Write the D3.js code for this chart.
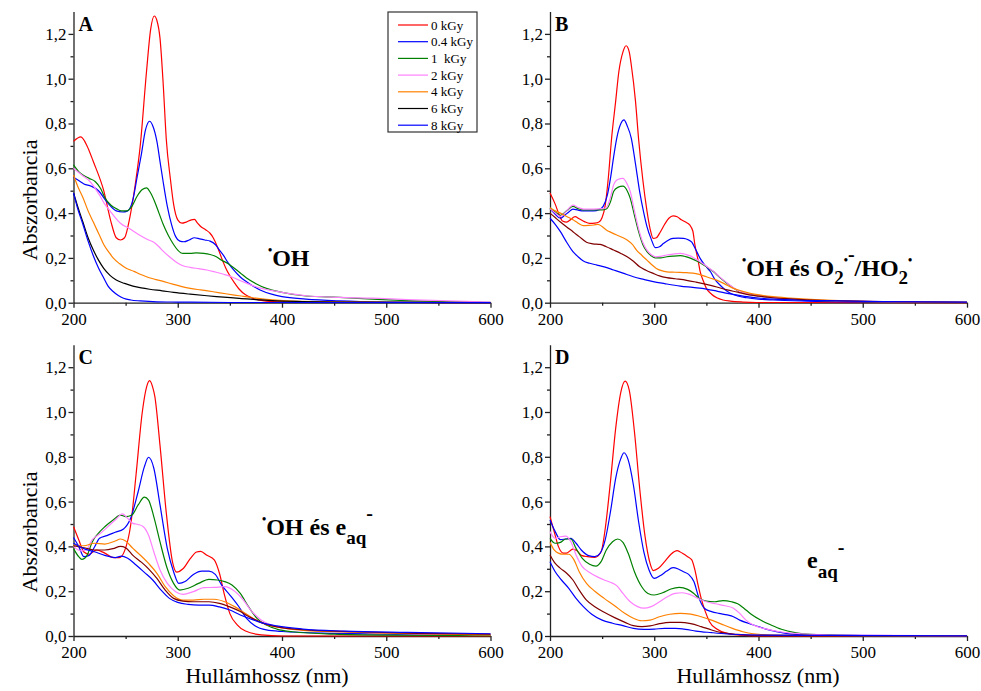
<!DOCTYPE html>
<html>
<head>
<meta charset="utf-8">
<script src="https://cdn.jsdelivr.net/npm/d3@7"></script>
<style>
  body { margin: 0; background: #fff; }
  svg { display: block; }
  svg text { font-family: "Liberation Serif", Tinos, "Times New Roman", serif; fill: #000; }
</style>
</head>
<body>
<svg id="chart" width="981" height="691"></svg>
<script>
// ---- Series labels, colours and tick values ----
const doses = ["0 kGy", "0.4 kGy", "1  kGy", "2 kGy", "4 kGy", "6 kGy", "8 kGy"];
const doseColors = ["#ff0000", "#0000ff", "#008000", "#ff80ff", "#ff8000", "#800000", "#0000ff"];
const panelLetters = ["A", "B", "C", "D"];
const xTicks = [200, 300, 400, 500, 600];
const xMinorTicks = [250, 350, 450, 550];
const yTicks = [0, 0.2, 0.4, 0.6, 0.8, 1.0, 1.2];
const yMinorTicks = [0.1, 0.3, 0.5, 0.7, 0.9, 1.1];

// ---- Spectra: [wavelength (nm), absorbance] ----
// A: •OH
const A_0 = [[200,.72],[207,.74],[213,.70],[219,.63],[229,.50],[236,.36],[241,.29],[245,.28],[249,.29],[254,.38],[259,.52],[264,.70],[270,1.03],[274,1.22],[277.5,1.28],[280,1.26],[283,1.18],[286,.98],[289,.73],[293,.55],[296,.44],[300,.37],[304,.355],[308,.36],[313,.37],[316,.372],[319,.355],[322,.34],[327,.325],[331,.31],[334,.29],[338,.25],[342,.20],[346,.155],[350,.12],[355,.085],[359,.06],[365,.035],[372,.02],[380,.01],[391,.005],[420,.002],[600,0]];
const A_04 = [[200,.56],[205,.545],[210,.53],[217,.52],[224,.50],[232,.45],[241,.41],[247,.405],[252,.41],[257,.46],[261,.56],[265,.66],[269,.77],[273,.81],[276,.79],[280,.72],[283,.63],[286,.54],[290,.43],[294,.35],[298,.295],[302,.275],[306,.272],[311,.28],[316,.29],[321,.285],[326,.28],[331,.275],[336,.26],[340,.235],[344,.21],[348,.18],[353,.15],[360,.115],[366,.094],[372,.075],[379,.057],[390,.038],[400,.027],[423,.016],[455,.008],[500,.003],[600,0]];
const A_1 = [[200,.615],[205,.585],[209,.57],[215,.555],[221,.54],[226,.51],[230,.47],[236,.435],[241,.42],[246,.41],[251,.41],[256,.43],[261,.475],[266,.505],[270,.513],[274,.49],[278,.45],[282,.40],[286,.35],[291,.30],[296,.26],[300,.235],[305,.22],[312,.22],[318,.222],[325,.22],[331,.215],[337,.205],[342,.19],[348,.175],[353,.158],[360,.133],[366,.11],[375,.085],[385,.064],[400,.046],[423,.03],[455,.024],[487,.016],[519,.009],[560,.004],[600,.002]];
const A_2 = [[200,.60],[208,.57],[216,.54],[225,.48],[230,.44],[235,.41],[240,.38],[245,.355],[254,.33],[264,.30],[272,.28],[277,.27],[282,.25],[286,.23],[292,.205],[299,.18],[305,.165],[312,.158],[320,.152],[328,.146],[336,.137],[344,.127],[352,.115],[359,.10],[367,.085],[375,.071],[387,.057],[400,.046],[423,.031],[455,.024],[487,.02],[520,.014],[560,.008],[600,.003]];
const A_4 = [[200,.57],[204,.52],[209,.47],[214,.41],[219,.36],[224,.31],[229,.26],[234,.225],[238,.20],[244,.175],[251,.153],[258,.14],[264,.127],[270,.116],[277,.106],[286,.095],[296,.082],[304,.072],[312,.064],[322,.057],[334,.049],[346,.04],[359,.031],[372,.022],[385,.015],[398,.01],[410,.007],[450,.004],[500,.002],[600,0]];
const A_6 = [[200,.49],[204,.43],[209,.36],[214,.29],[219,.235],[224,.19],[229,.153],[235,.122],[241,.101],[249,.086],[257,.074],[265,.066],[273,.06],[285,.053],[296,.046],[312,.038],[328,.031],[344,.025],[359,.019],[375,.014],[391,.009],[420,.005],[450,.003],[600,0]];
const A_8 = [[200,.49],[204,.42],[209,.35],[214,.275],[219,.21],[224,.155],[229,.11],[233,.075],[238,.05],[243,.032],[248,.02],[255,.012],[264,.008],[280,.004],[300,.003],[350,.001],[600,0]];

// B: •OH és O2•-/HO2•
const B_0 = [[200,.49],[205,.44],[209,.39],[212,.365],[216,.36],[220,.372],[224,.384],[228,.375],[233,.362],[238,.354],[243,.355],[247,.36],[250,.38],[253,.436],[256,.56],[259,.73],[263,.90],[266,1.03],[270,1.12],[273,1.147],[276,1.12],[278,1.06],[282,.90],[285,.73],[289,.55],[293,.41],[296,.33],[299,.287],[302,.29],[306,.317],[310,.35],[314,.377],[318,.388],[322,.384],[326,.37],[330,.36],[334,.347],[337,.32],[339,.258],[342,.19],[344,.14],[347,.098],[350,.064],[355,.038],[360,.022],[366,.012],[373,.007],[385,.003],[398,.001],[600,0]];
const B_04 = [[200,.42],[205,.395],[210,.377],[214,.39],[218,.405],[222,.418],[227,.413],[232,.41],[237,.41],[242,.41],[247,.415],[251,.43],[255,.48],[258,.555],[261,.65],[264,.734],[268,.80],[271,.816],[274,.79],[278,.734],[282,.62],[286,.496],[290,.40],[293,.34],[297,.285],[301,.246],[305,.25],[309,.265],[313,.278],[318,.287],[323,.288],[328,.287],[332,.282],[336,.27],[340,.235],[344,.198],[349,.165],[354,.138],[358,.105],[363,.079],[368,.058],[373,.042],[380,.03],[389,.022],[400,.016],[414,.012],[446,.007],[510,.003],[600,.001]];
const B_1 = [[200,.424],[205,.405],[210,.39],[216,.41],[222,.43],[227,.42],[232,.414],[242,.414],[250,.414],[254,.418],[258,.45],[261,.496],[265,.515],[270,.52],[274,.50],[277,.466],[281,.39],[285,.317],[289,.26],[293,.228],[297,.21],[301,.20],[306,.20],[312,.205],[318,.208],[325,.21],[330,.206],[334,.20],[339,.19],[344,.178],[350,.16],[357,.138],[363,.112],[370,.086],[376,.066],[382,.049],[390,.038],[400,.03],[415,.022],[430,.016],[455,.01],[478,.007],[530,.004],[600,.002]];
const B_2 = [[200,.42],[205,.40],[210,.385],[216,.41],[222,.436],[227,.425],[232,.418],[242,.418],[250,.42],[254,.425],[258,.47],[261,.526],[265,.55],[270,.555],[274,.53],[277,.496],[281,.41],[285,.33],[289,.27],[293,.235],[297,.215],[301,.205],[306,.207],[312,.213],[318,.217],[325,.22],[330,.216],[334,.21],[339,.197],[344,.183],[350,.163],[357,.14],[363,.114],[370,.088],[376,.067],[382,.05],[390,.039],[400,.031],[415,.023],[430,.017],[455,.011],[478,.008],[530,.004],[600,.002]];
const B_4 = [[200,.424],[205,.41],[210,.40],[216,.385],[222,.37],[227,.355],[232,.344],[237,.345],[242,.347],[246,.35],[250,.34],[254,.325],[259,.313],[264,.302],[269,.292],[274,.28],[279,.26],[283,.235],[288,.212],[293,.19],[298,.168],[302,.153],[307,.143],[312,.138],[320,.136],[331,.134],[340,.13],[350,.116],[357,.105],[363,.094],[370,.078],[376,.064],[384,.052],[392,.042],[402,.034],[414,.027],[430,.021],[446,.016],[470,.011],[494,.007],[540,.004],[600,.002]];
const B_6 = [[200,.40],[205,.38],[210,.36],[216,.338],[222,.317],[228,.295],[235,.27],[241,.263],[248,.26],[254,.25],[261,.235],[268,.22],[274,.205],[280,.185],[286,.16],[292,.145],[299,.131],[305,.12],[312,.112],[320,.107],[331,.10],[340,.092],[350,.082],[360,.07],[370,.057],[380,.047],[389,.037],[400,.029],[414,.022],[430,.017],[446,.013],[480,.008],[510,.005],[600,.002]];
const B_8 = [[200,.377],[205,.35],[210,.317],[216,.27],[222,.228],[227,.205],[232,.186],[238,.176],[245,.168],[252,.16],[261,.146],[270,.132],[280,.116],[290,.104],[299,.094],[310,.085],[325,.074],[337,.068],[350,.061],[360,.052],[370,.042],[380,.034],[389,.027],[400,.021],[414,.016],[440,.011],[462,.009],[520,.005],[600,.003]];

// C: •OH és e(aq)-
const C_0 = [[200,.488],[205,.43],[210,.375],[215,.365],[222,.384],[230,.37],[238,.35],[244,.35],[249,.38],[255,.50],[260,.72],[266,1.00],[270,1.11],[273,1.14],[276,1.11],[278,1.07],[283,.85],[289,.55],[295,.33],[299,.285],[305,.30],[312,.345],[318,.375],[322,.378],[328,.36],[335,.34],[340,.28],[345,.18],[350,.10],[357,.05],[365,.022],[380,.005],[400,0],[600,0]];
const C_04 = [[200,.44],[205,.40],[210,.354],[215,.36],[220,.396],[225,.436],[232,.448],[240,.463],[248,.478],[255,.528],[262,.644],[268,.756],[272,.798],[277,.75],[283,.585],[290,.39],[296,.287],[301,.235],[307,.243],[315,.275],[323,.29],[330,.29],[336,.275],[342,.228],[350,.183],[358,.135],[366,.079],[374,.046],[385,.027],[400,.02],[450,.012],[500,.008],[600,.005]];
const C_1 = [[200,.39],[205,.354],[208,.342],[213,.36],[218,.42],[223,.454],[230,.488],[238,.518],[245,.54],[250,.533],[256,.54],[262,.585],[268,.62],[272,.607],[277,.533],[283,.42],[290,.30],[296,.235],[302,.205],[310,.213],[320,.235],[330,.253],[338,.25],[345,.243],[352,.228],[360,.19],[368,.13],[376,.079],[385,.049],[395,.031],[410,.019],[450,.008],[500,.004],[600,.002]];
const C_2 = [[200,.40],[207,.38],[212,.384],[218,.43],[225,.455],[232,.484],[240,.518],[247,.545],[252,.525],[257,.503],[262,.498],[267,.488],[272,.45],[277,.376],[283,.295],[290,.235],[298,.198],[305,.186],[315,.198],[325,.216],[335,.217],[345,.22],[355,.198],[363,.16],[370,.116],[380,.071],[395,.042],[420,.027],[460,.019],[500,.013],[600,.006]];
const C_4 = [[200,.406],[210,.403],[220,.414],[230,.41],[240,.424],[245,.433],[250,.424],[257,.391],[265,.357],[272,.324],[280,.28],[288,.22],[296,.18],[305,.16],[315,.16],[325,.164],[335,.164],[345,.153],[355,.13],[365,.10],[375,.071],[390,.045],[410,.03],[450,.019],[500,.013],[600,.005]];
const C_6 = [[200,.403],[210,.394],[220,.384],[230,.384],[238,.39],[245,.40],[250,.394],[257,.36],[265,.33],[272,.30],[280,.257],[288,.205],[296,.168],[305,.156],[315,.153],[330,.153],[340,.146],[350,.13],[360,.109],[370,.082],[385,.052],[400,.037],[430,.025],[470,.019],[530,.012],[600,.008]];
const C_8 = [[200,.414],[210,.39],[220,.376],[230,.36],[240,.35],[246,.357],[252,.347],[260,.317],[268,.284],[276,.25],[284,.205],[292,.168],[300,.15],[310,.141],[320,.138],[330,.138],[340,.13],[350,.116],[360,.094],[370,.076],[380,.06],[395,.045],[420,.031],[460,.022],[520,.016],[600,.01]];

// D: e(aq)-
const D_0 = [[200,.533],[204,.466],[208,.40],[213,.37],[216,.37],[219,.38],[222,.388],[226,.38],[230,.36],[236,.354],[243,.351],[249,.376],[253,.48],[258,.69],[263,.927],[268,1.09],[272,1.138],[276,1.098],[281,.912],[286,.66],[291,.45],[296,.324],[299,.292],[304,.302],[310,.332],[316,.365],[322,.381],[327,.369],[332,.354],[336,.34],[339,.295],[342,.228],[345,.168],[349,.109],[353,.064],[360,.031],[370,.012],[390,.002],[400,0],[600,0]];
const D_04 = [[200,.518],[205,.466],[210,.43],[215,.433],[220,.436],[225,.414],[230,.384],[237,.359],[243,.354],[248,.369],[253,.43],[258,.555],[263,.704],[268,.793],[271,.818],[275,.786],[280,.674],[285,.51],[290,.376],[295,.295],[300,.257],[306,.27],[312,.29],[318,.305],[323,.299],[328,.287],[333,.275],[338,.243],[343,.168],[348,.124],[355,.109],[362,.101],[370,.094],[376,.086],[382,.071],[390,.057],[400,.042],[410,.027],[425,.013],[450,.005],[500,.002],[600,.001]];
const D_1 = [[200,.436],[205,.414],[210,.418],[215,.433],[220,.433],[225,.391],[231,.347],[238,.32],[244,.312],[249,.332],[254,.384],[260,.421],[265,.433],[270,.418],[275,.369],[281,.287],[288,.22],[294,.19],[300,.183],[308,.193],[316,.21],[324,.217],[332,.208],[338,.19],[343,.168],[350,.156],[358,.153],[366,.158],[374,.153],[380,.144],[386,.124],[393,.097],[402,.071],[412,.049],[422,.03],[435,.015],[450,.007],[500,.002],[600,.001]];
const D_2 = [[200,.466],[205,.436],[210,.443],[215,.446],[220,.421],[225,.362],[231,.31],[238,.284],[245,.265],[252,.25],[258,.24],[264,.225],[270,.19],[277,.153],[284,.131],[290,.124],[297,.131],[305,.153],[313,.176],[320,.19],[327,.193],[334,.186],[342,.168],[350,.153],[360,.143],[368,.135],[376,.124],[382,.101],[388,.071],[395,.049],[405,.034],[420,.019],[440,.01],[480,.004],[600,.001]];
const D_4 = [[200,.418],[204,.384],[208,.37],[213,.365],[218,.365],[223,.34],[228,.287],[235,.235],[243,.20],[252,.168],[262,.135],[272,.10],[280,.079],[288,.068],[296,.071],[305,.086],[315,.097],[325,.101],[335,.098],[345,.086],[355,.071],[365,.052],[375,.034],[385,.019],[395,.01],[420,.003],[600,0]];
const D_6 = [[200,.362],[205,.324],[210,.302],[216,.28],[222,.25],[228,.205],[235,.16],[243,.131],[252,.106],[262,.082],[272,.061],[280,.046],[288,.042],[296,.045],[305,.055],[315,.061],[325,.061],[335,.055],[345,.042],[355,.027],[365,.015],[380,.007],[400,.003],[600,0]];
const D_8 = [[200,.332],[205,.287],[211,.25],[218,.213],[225,.168],[232,.131],[240,.097],[250,.071],[260,.057],[270,.046],[280,.034],[290,.03],[300,.031],[310,.034],[320,.034],[330,.03],[340,.022],[355,.015],[370,.009],[400,.004],[600,.001]];

const panelSeries = [
  [A_0, A_04, A_1, A_2, A_4, A_6, A_8],
  [B_0, B_04, B_1, B_2, B_4, B_6, B_8],
  [C_0, C_04, C_1, C_2, C_4, C_6, C_8],
  [D_0, D_04, D_1, D_2, D_4, D_6, D_8]
];

// ---- Layout ----
const SERIF = '"Liberation Serif", Tinos, "Times New Roman", serif';
const frames = [
  { left: 73.5, right: 490.5, bottom: 302.7 },
  { left: 550,  right: 967,   bottom: 302.7 },
  { left: 73.5, right: 490.5, bottom: 636 },
  { left: 550,  right: 967,   bottom: 636 }
];
const pxPerUnit = 224;
const yMax = 1.3;

const svg = d3.select("#chart");
const comma = d => d3.format(".1f")(d).replace(".", ",");

frames.forEach((f, i) => {
  const x = d3.scaleLinear().domain([200, 600]).range([f.left, f.right]);
  const y = d3.scaleLinear().domain([0, yMax]).range([f.bottom, f.bottom - yMax * pxPerUnit]);
  const g = svg.append("g");

  // axes
  g.append("g").attr("transform", `translate(${f.left},0)`)
    .call(d3.axisLeft(y).tickValues(yTicks).tickFormat(comma).tickSize(5).tickSizeOuter(0).tickPadding(2));
  g.append("g").attr("transform", `translate(${f.left},0)`)
    .call(d3.axisLeft(y).tickValues(yMinorTicks).tickFormat("").tickSize(3))
    .call(s => s.select(".domain").remove());
  g.append("g").attr("transform", `translate(0,${f.bottom})`)
    .call(d3.axisBottom(x).tickValues(xTicks).tickFormat(d3.format("d")).tickSize(5).tickSizeOuter(0).tickPadding(5));
  g.append("g").attr("transform", `translate(0,${f.bottom})`)
    .call(d3.axisBottom(x).tickValues(xMinorTicks).tickFormat("").tickSize(3))
    .call(s => s.select(".domain").remove());

  g.selectAll(".tick text").style("font-family", SERIF).style("font-size", "17px").attr("fill", "#000");
  g.selectAll(".domain, .tick line").attr("stroke", "#222").attr("stroke-width", 1.3);

  // spectra
  const line = d3.line().x(d => x(d[0])).y(d => y(d[1])).curve(d3.curveMonotoneX);
  const colors = doseColors.map((c, k) => (i === 0 && k === 5) ? "#000000" : c);
  panelSeries[i].forEach((s, k) => {
    g.append("path").datum(s)
      .attr("fill", "none")
      .attr("stroke", colors[k])
      .attr("stroke-width", 1.2)
      .attr("d", line);
  });

  // panel letter
  g.append("text").attr("x", f.left + 5).attr("y", f.bottom - yMax * pxPerUnit + 19)
    .style("font-family", SERIF).style("font-size", "20px").style("font-weight", "bold").text(panelLetters[i]);
});

// y titles
[[37, 200], [37, 532]].forEach(([tx, ty]) => {
  svg.append("text").attr("transform", `translate(${tx},${ty}) rotate(-90)`)
    .attr("text-anchor", "middle").style("font-family", SERIF).style("font-size", "22px").text("Abszorbancia");
});
// x titles
[[267, 683], [758, 683]].forEach(([tx, ty]) => {
  svg.append("text").attr("x", tx).attr("y", ty).attr("text-anchor", "middle")
    .style("font-family", SERIF).style("font-size", "22px").text("Hullámhossz (nm)");
});

// radical labels: parts are [text, font size, baseline offset]
function label(x, y, parts) {
  const t = svg.append("text").attr("x", x).attr("y", y)
    .style("font-family", SERIF).style("font-weight", "bold");
  let prev = 0;
  parts.forEach(([s, size, off]) => {
    t.append("tspan").attr("dy", off - prev).style("font-size", size + "px").text(s);
    prev = off;
  });
}
label(268, 266, [["•", 12, -12], ["OH", 24, 0]]);
label(742, 276, [["•", 12, -12], ["OH és O", 24, 0], ["2", 19, 8], ["•", 12, -12], ["-", 20, -15], ["/HO", 24, 0], ["2", 19, 8], ["•", 12, -12]]);
label(262, 535, [["•", 12, -12], ["OH és e", 24, 0], ["aq", 19, 9], ["-", 20, -15]]);
label(807, 568, [["e", 24, 0], ["aq", 19, 10], ["-", 20, -14]]);

// legend
const lg = svg.append("g");
lg.append("rect").attr("x", 388).attr("y", 12).attr("width", 89).attr("height", 120)
  .attr("fill", "#fff").attr("stroke", "#333").attr("stroke-width", 1.2);
doses.forEach((d, k) => {
  const yy = 25 + k * 16.7;
  lg.append("line").attr("x1", 398).attr("x2", 428).attr("y1", yy).attr("y2", yy)
    .attr("stroke", k === 5 ? "#000000" : doseColors[k]).attr("stroke-width", 1.2);
  lg.append("text").attr("x", 431).attr("y", yy).attr("dy", "0.35em")
    .style("font-family", SERIF).style("font-size", "13px").style("white-space", "pre").text(d);
});
</script>
</body>
</html>
